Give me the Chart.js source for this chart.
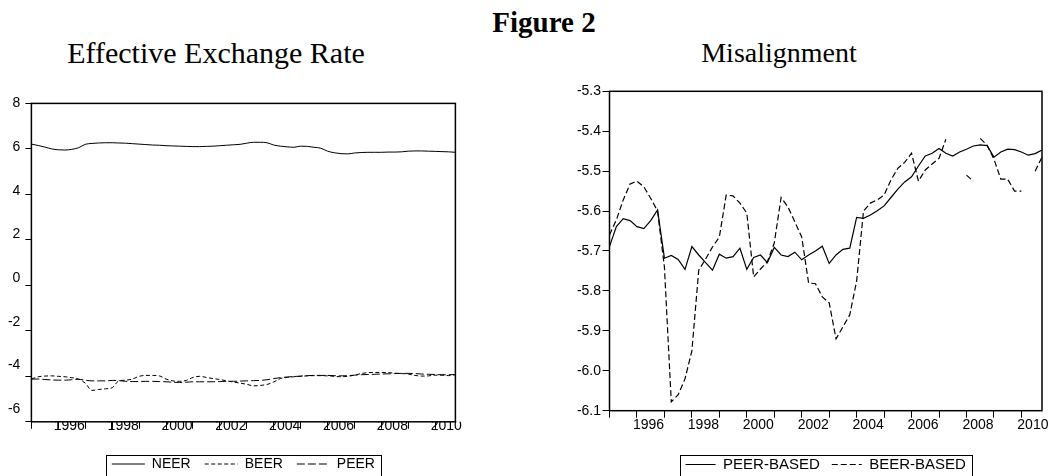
<!DOCTYPE html>
<html>
<head>
<meta charset="utf-8">
<script src="https://cdn.jsdelivr.net/npm/chart.js@4.4.1/dist/chart.umd.min.js"></script>
<style>
html, body { margin:0; padding:0; background:#fff; width:1051px; height:476px; overflow:hidden; }
.t { position:absolute; font-family:"Liberation Serif","Times New Roman",serif; color:#000; white-space:nowrap; line-height:1; transform:translateX(-50%); }
.box { position:absolute; top:0; height:490px; }
</style>
</head>
<body>
<div class="t" style="left:544px; top:8px; font-size:29px; font-weight:bold;">Figure 2</div>
<div class="t" style="left:216px; top:38px; font-size:30px;">Effective Exchange Rate</div>
<div class="t" style="left:779px; top:39px; font-size:28px;">Misalignment</div>
<div class="box" style="left:0; width:525px;"><canvas id="c1"></canvas></div>
<div class="box" style="left:525px; width:526px;"><canvas id="c2"></canvas></div>
<script>
// ---------- categories ----------
const years = [];
for (let y = 1995; y <= 2010; y++) years.push(y);
const quarters = [];
years.forEach(y => { for (let q = 1; q <= 4; q++) quarters.push(y + 'Q' + q); });
const yearTicks = ['1996','1998','2000','2002','2004','2006','2008','2010'];

// ---------- left chart series ----------
const neer = [6.21,6.15,6.08,6.00,5.96,5.95,5.98,6.05,6.20,6.24,6.26,6.27,6.27,6.26,6.25,6.23,
  6.21,6.19,6.17,6.16,6.14,6.13,6.12,6.11,6.10,6.10,6.11,6.12,6.14,6.16,6.18,6.20,
  6.25,6.29,6.29,6.27,6.17,6.12,6.09,6.07,6.12,6.11,6.07,6.03,5.90,5.83,5.79,5.78,
  5.82,5.84,5.85,5.85,5.85,5.86,5.86,5.87,5.90,5.91,5.91,5.90,5.89,5.88,5.87,5.85];
const beer = [-4.12,-4.02,-3.99,-3.98,-4.00,-4.02,-4.06,-4.12,-4.30,-4.62,-4.58,-4.55,-4.50,-4.20,-4.17,-4.12,
  -4.00,-3.96,-3.96,-3.98,-4.12,-4.20,-4.22,-4.18,-4.05,-4.00,-4.05,-4.10,-4.14,-4.20,-4.25,-4.30,
  -4.35,-4.42,-4.40,-4.36,-4.25,-4.10,-4.05,-4.02,-4.00,-3.98,-3.97,-3.97,-3.98,-4.00,-4.02,-4.00,
  -3.95,-3.88,-3.84,-3.83,-3.83,-3.84,-3.86,-3.88,-3.90,-3.96,-3.99,-3.98,-3.95,-3.95,-3.97,-3.93];
const peer = [-4.12,-4.12,-4.14,-4.16,-4.17,-4.17,-4.15,-4.13,-4.17,-4.20,-4.20,-4.20,-4.18,-4.19,-4.22,-4.23,
  -4.23,-4.22,-4.22,-4.23,-4.24,-4.26,-4.27,-4.26,-4.24,-4.24,-4.24,-4.24,-4.23,-4.22,-4.22,-4.21,
  -4.20,-4.19,-4.18,-4.15,-4.10,-4.06,-4.03,-4.01,-3.99,-3.97,-3.96,-3.96,-3.96,-3.97,-3.98,-3.97,
  -3.95,-3.93,-3.92,-3.91,-3.90,-3.89,-3.88,-3.87,-3.87,-3.88,-3.90,-3.91,-3.92,-3.93,-3.93,-3.92];

// ---------- right chart series ----------
const peerBased = [-5.689,-5.639,-5.619,-5.624,-5.639,-5.644,-5.624,-5.597,-5.718,-5.711,-5.721,-5.746,-5.689,-5.710,-5.729,-5.748,
  -5.708,-5.718,-5.714,-5.693,-5.746,-5.716,-5.710,-5.729,-5.691,-5.710,-5.714,-5.703,-5.722,-5.710,-5.700,-5.688,
  -5.731,-5.710,-5.696,-5.693,-5.616,-5.618,-5.610,-5.599,-5.587,-5.566,-5.545,-5.527,-5.514,-5.487,-5.462,-5.455,
  -5.443,-5.455,-5.462,-5.452,-5.445,-5.437,-5.434,-5.436,-5.465,-5.452,-5.445,-5.446,-5.452,-5.460,-5.456,-5.447];
const beerBased = [-5.660,-5.622,-5.572,-5.532,-5.525,-5.539,-5.568,-5.600,-5.740,-6.078,-6.060,-6.020,-5.950,-5.748,-5.720,-5.690,
  -5.665,-5.560,-5.562,-5.580,-5.605,-5.765,-5.745,-5.727,-5.680,-5.566,-5.590,-5.627,-5.665,-5.780,-5.782,-5.815,
  -5.830,-5.920,-5.890,-5.860,-5.775,-5.600,-5.580,-5.572,-5.560,-5.522,-5.493,-5.478,-5.455,-5.525,-5.497,-5.482,
  -5.468,-5.420,-5.505,-5.420,-5.510,-5.525,-5.418,-5.435,-5.470,-5.520,-5.520,-5.550,-5.550,-5.620,-5.500,-5.465];

Chart.defaults.font.family = '"Liberation Sans", Arial, sans-serif';
Chart.defaults.color = '#000';

const framePlugin = {
  id: 'frame',
  afterDraw(chart) {
    const {ctx, chartArea: a} = chart;
    ctx.save();
    ctx.setLineDash([]);
    ctx.strokeStyle = '#000';
    ctx.lineWidth = 1.5;
    ctx.strokeRect(a.left, a.top, a.right - a.left, a.bottom - a.top);
    const lg = chart.legend;
    if (lg && lg.legendHitBoxes && lg.legendHitBoxes.length) {
      const hb = lg.legendHitBoxes;
      const l = Math.min(...hb.map(h => h.left));
      const r = Math.max(...hb.map(h => h.left + h.width));
      const t = Math.min(...hb.map(h => h.top));
      ctx.lineWidth = 1;
      ctx.strokeRect(Math.round(l - 6) + 0.5, Math.round(t - 2) + 0.5, Math.round(r - l + 12), 26);
    }
    ctx.restore();
  }
};

const legendLabels = chart => Chart.defaults.plugins.legend.labels.generateLabels(chart).map(it => {
  const ds = chart.data.datasets[it.datasetIndex];
  it.lineDash = ds.borderDash;
  it.lineWidth = ds.borderWidth;
  it.strokeStyle = '#000';
  it.fillStyle = '#000';
  it.pointStyle = 'line';
  return it;
});

const xTickCb = function(value, index) {
  const lab = quarters[index];
  const yr = lab.slice(0, 4);
  return (lab.endsWith('Q1') && yearTicks.includes(yr)) ? yr : '';
};
const xTickColor = c => (quarters[c.index] && quarters[c.index].endsWith('Q1')) ? '#000' : 'rgba(0,0,0,0)';
const line = (label, data, dash, extra) => Object.assign({
  label, data, borderColor:'#000', backgroundColor:'#000', borderWidth:1, borderDash:dash,
  pointRadius:0, pointHoverRadius:0, fill:false
}, extra || {});

// ---------- left chart ----------
new Chart(document.getElementById('c1'), {
  type: 'line',
  data: {
    labels: quarters,
    datasets: [
      line('NEER', neer, [], {cubicInterpolationMode:'monotone'}),
      line('BEER', beer, [4, 2.5], {cubicInterpolationMode:'monotone'}),
      line('PEER', peer, [8, 3], {cubicInterpolationMode:'monotone'})
    ]
  },
  options: {
    responsive: true, maintainAspectRatio: false, animation: false,
    layout: { padding: { top: 103.4, right: 69.6, left: 0, bottom: 9 } },
    plugins: {
      legend: { position:'bottom', fullSize:false,
        labels: { usePointStyle:true, pointStyle:'line', pointStyleWidth:33, padding:14, color:'#000',
                  font:{ size:14 }, generateLabels: legendLabels } },
      tooltip: { enabled:false }
    },
    scales: {
      x: {
        type:'category', offset:false,
        border:{ display:false },
        grid:{ drawOnChartArea:false, drawTicks:true, tickLength:7, tickWidth:1, tickColor:xTickColor },
        ticks:{ autoSkip:false, maxRotation:0, minRotation:0, padding:-11.2, labelOffset:11,
                font:{ size:14 }, color:'#000', callback:xTickCb },
        afterFit: s => { s.height = 21.2; }
      },
      y: {
        min:-6, max:8,
        border:{ display:false },
        grid:{ drawOnChartArea:false, drawTicks:true, tickLength:6, tickWidth:1, tickColor:'#000' },
        ticks:{ stepSize:2, display:false },
        afterFit: s => { s.width = 0; }
      },
      yLab: {
        position:'left', weight:1, min:-6.586, max:8,
        border:{ display:false },
        grid:{ display:false, drawTicks:false, tickLength:0 },
        ticks:{ stepSize:2, includeBounds:false, padding:11, font:{ size:14 }, color:'#000' },
        afterFit: s => { s.width = 31.4; }
      }
    }
  },
  plugins: [framePlugin]
});

// ---------- right chart ----------
const hideSteep = c => (c.p0DataIndex >= 48 && Math.abs(c.p1.parsed.y - c.p0.parsed.y) > 0.06) ? 'rgba(0,0,0,0)' : '#000';
new Chart(document.getElementById('c2'), {
  type: 'line',
  data: {
    labels: quarters,
    datasets: [
      line('PEER-BASED', peerBased, [], {borderWidth:1.2}),
      line('BEER-BASED', beerBased, [6, 3], {borderWidth:1.2, segment:{ borderColor: hideSteep }})
    ]
  },
  options: {
    responsive: true, maintainAspectRatio: false, animation: false,
    layout: { padding: { top: 91.3, right: 9, left: 0, bottom: 8 } },
    plugins: {
      legend: { position:'bottom', fullSize:false,
        labels: { usePointStyle:true, pointStyle:'line', pointStyleWidth:30, padding:12, color:'#000',
                  font:{ size:15 }, generateLabels: legendLabels } },
      tooltip: { enabled:false }
    },
    scales: {
      x: {
        type:'category', offset:false,
        border:{ display:false },
        grid:{ drawOnChartArea:false, drawTicks:true, tickLength:7, tickWidth:1, tickColor:xTickColor },
        ticks:{ autoSkip:false, maxRotation:0, minRotation:0, padding:-1.1, labelOffset:11.5,
                font:{ size:14 }, color:'#000', callback:xTickCb },
        afterFit: s => { s.height = 34.3; }
      },
      y: {
        min:-6.1, max:-5.3,
        border:{ display:false },
        grid:{ drawOnChartArea:false, drawTicks:true, tickLength:7, tickWidth:1, tickColor:'#000' },
        ticks:{ stepSize:0.1, padding:1.5, font:{ size:14 }, color:'#000',
                callback: v => Number(v).toFixed(1) },
        afterFit: s => { s.width = 84.5; }
      }
    }
  },
  plugins: [framePlugin]
});
</script>
</body>
</html>
